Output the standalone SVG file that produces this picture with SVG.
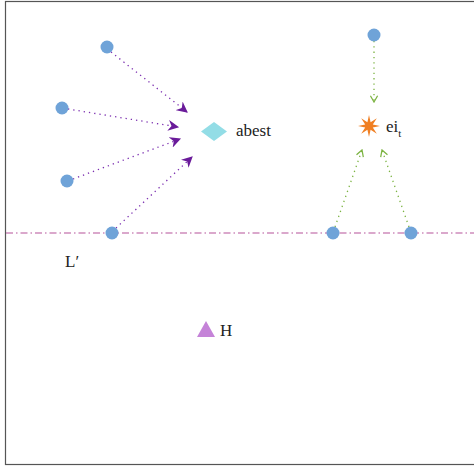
<svg xmlns="http://www.w3.org/2000/svg" width="474" height="466" viewBox="0 0 474 466">
<defs>
<marker id="ph" viewBox="0 0 10 10" refX="9" refY="5" markerWidth="11" markerHeight="11" markerUnits="userSpaceOnUse" orient="auto">
<path d="M0,0 L10,5 L0,10 L3,5 Z" fill="#6a1b9a"/>
</marker>
<marker id="gh" viewBox="0 0 10 10" refX="9" refY="5" markerWidth="9" markerHeight="9" markerUnits="userSpaceOnUse" orient="auto">
<path d="M2,1 L9,5 L2,9" fill="none" stroke="#7cb342" stroke-width="1.4"/>
</marker>
</defs>
<style>
.nd{fill:#6fa3d8}
.pa{stroke:#7b2fb0;stroke-width:1.3;stroke-dasharray:1.3,4;fill:none}
.ga{stroke:#7cb342;stroke-width:1.3;stroke-dasharray:1.3,4;fill:none}
.t{font-family:"Liberation Serif","DejaVu Serif",serif;font-size:17px;fill:#222}
</style>
<rect x="5.5" y="1.5" width="480" height="463" fill="#fff" stroke="#555" stroke-width="1.2"/>
<g id="line-L">
<line x1="6" y1="233" x2="474" y2="233" stroke="#b5529a" stroke-width="1.2" stroke-dasharray="7,3,1.5,3"/>
</g>
<g id="connectors">
<line class="pa" x1="111" y1="52" x2="187" y2="112" marker-end="url(#ph)"/>
<line class="pa" x1="68" y1="109" x2="178" y2="127" marker-end="url(#ph)"/>
<line class="pa" x1="73" y1="179" x2="180" y2="139" marker-end="url(#ph)"/>
<line class="pa" x1="116" y1="228" x2="192" y2="157" marker-end="url(#ph)"/>
<line class="ga" x1="374" y1="41" x2="374" y2="102" marker-end="url(#gh)"/>
<line class="ga" x1="335" y1="227" x2="362" y2="150" marker-end="url(#gh)"/>
<line class="ga" x1="409" y1="227" x2="382" y2="150" marker-end="url(#gh)"/>
</g>
<g id="n1"><circle class="nd" cx="107" cy="47" r="6.5"/></g>
<g id="n2"><circle class="nd" cx="62" cy="108" r="6.5"/></g>
<g id="n3"><circle class="nd" cx="67" cy="181" r="6.5"/></g>
<g id="n4"><circle class="nd" cx="112" cy="233" r="6.5"/></g>
<g id="n5"><circle class="nd" cx="374" cy="35" r="6.5"/></g>
<g id="n6"><circle class="nd" cx="333" cy="233" r="6.5"/></g>
<g id="n7"><circle class="nd" cx="411" cy="233" r="6.5"/></g>
<g id="abest">
<polygon points="201,131.5 214,122 227,131.5 214,141" fill="#93dde6"/>
<text class="t" x="236" y="136">abest</text>
</g>
<g id="ei">
<polygon fill="#f07f22" points="369,115 370.6,122.2 376.8,118.2 372.8,124.4 380,126 372.8,127.6 376.8,133.8 370.6,129.8 369,137 367.4,129.8 361.2,133.8 365.2,127.6 358,126 365.2,124.4 361.2,118.2 367.4,122.2"/>
<text class="t" x="386" y="132">ei<tspan font-size="11" dy="5">t</tspan></text>
</g>
<g id="Lp"><text class="t" x="65" y="267">L′</text></g>
<g id="H">
<polygon points="197,337 206,321 215,337" fill="#c583d8"/>
<text class="t" x="220" y="336">H</text>
</g>
</svg>
